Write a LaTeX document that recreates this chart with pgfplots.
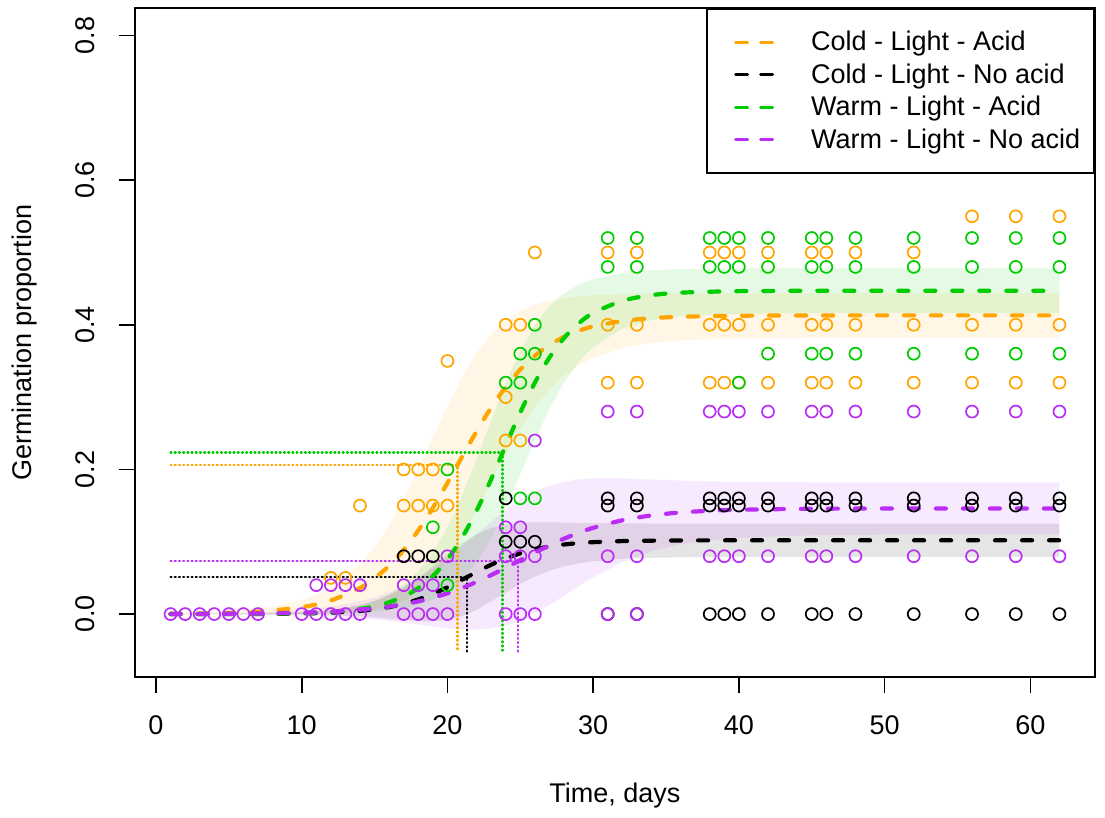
\documentclass[border=0pt]{standalone}
\usepackage{fontspec}
\setmainfont{Liberation Sans}
\usepackage{pgfplots}
\usepackage{pgfplotstable}
\pgfplotsset{compat=1.18}
\usepgfplotslibrary{fillbetween}
\definecolor{cOr}{RGB}{255,165,0}
\definecolor{cGr}{RGB}{0,205,0}
\definecolor{cPu}{RGB}{185,45,245}
\definecolor{cBk}{RGB}{0,0,0}
\newcommand\myfont{\fontsize{13.5}{16.2}\selectfont}

\pgfplotstableread{
t f lo hi
1 0.0004 0.0000 0.0008
4 0.0012 0.0000 0.0024
7 0.0034 0.0001 0.0067
10 0.0095 0.0003 0.0187
12 0.0188 0.0011 0.0365
14 0.0361 0.0034 0.0688
15 0.0495 0.0061 0.0929
16 0.0668 0.0108 0.1228
17 0.0888 0.0186 0.1590
18 0.1156 0.0311 0.2001
19 0.1468 0.0496 0.2440
20 0.1813 0.0751 0.2875
21 0.2173 0.1072 0.3274
22 0.2527 0.1444 0.3610
23 0.2854 0.1837 0.3871
24 0.3140 0.2219 0.4061
25 0.3380 0.2567 0.4193
26 0.3571 0.2863 0.4279
27 0.3720 0.3104 0.4336
28 0.3832 0.3293 0.4371
29 0.3916 0.3437 0.4395
30 0.3977 0.3544 0.4410
32 0.4052 0.3678 0.4426
34 0.4091 0.3749 0.4433
36 0.4111 0.3785 0.4437
40 0.4125 0.3811 0.4439
45 0.4129 0.3819 0.4439
50 0.4130 0.3820 0.4440
56 0.4130 0.3820 0.4440
62 0.4130 0.3820 0.4440
}\tabOr

\pgfplotstableread{
t f lo hi
1 0.0000 0.0000 0.0001
4 0.0001 0.0000 0.0002
7 0.0002 -0.0002 0.0006
10 0.0009 -0.0007 0.0025
12 0.0020 -0.0015 0.0055
14 0.0045 -0.0033 0.0123
15 0.0067 -0.0046 0.0180
16 0.0098 -0.0064 0.0260
17 0.0142 -0.0082 0.0366
18 0.0202 -0.0098 0.0502
19 0.0279 -0.0101 0.0659
20 0.0371 -0.0083 0.0825
21 0.0475 -0.0030 0.0980
22 0.0581 0.0058 0.1104
23 0.0682 0.0174 0.1190
24 0.0769 0.0299 0.1239
25 0.0840 0.0418 0.1262
26 0.0894 0.0519 0.1269
27 0.0934 0.0599 0.1269
28 0.0962 0.0659 0.1265
29 0.0981 0.0701 0.1261
30 0.0994 0.0730 0.1258
32 0.1009 0.0764 0.1254
34 0.1015 0.0778 0.1252
36 0.1018 0.0785 0.1251
40 0.1020 0.0790 0.1250
45 0.1020 0.0790 0.1250
50 0.1020 0.0790 0.1250
56 0.1020 0.0790 0.1250
62 0.1020 0.0790 0.1250
}\tabBk

\pgfplotstableread{
t f lo hi
1 0.0000 0.0000 0.0001
4 0.0001 0.0000 0.0002
7 0.0004 0.0001 0.0007
10 0.0014 0.0005 0.0023
12 0.0031 0.0009 0.0053
14 0.0072 0.0022 0.0122
15 0.0108 0.0034 0.0182
16 0.0163 0.0053 0.0273
17 0.0243 0.0081 0.0405
18 0.0360 0.0126 0.0594
19 0.0525 0.0196 0.0854
20 0.0753 0.0306 0.1200
21 0.1054 0.0473 0.1635
22 0.1428 0.0716 0.2140
23 0.1863 0.1048 0.2678
24 0.2329 0.1464 0.3194
25 0.2787 0.1932 0.3642
26 0.3200 0.2404 0.3996
27 0.3546 0.2837 0.4255
28 0.3816 0.3199 0.4433
29 0.4018 0.3483 0.4553
30 0.4162 0.3692 0.4632
32 0.4331 0.3946 0.4716
34 0.4409 0.4065 0.4753
36 0.4444 0.4119 0.4769
40 0.4465 0.4152 0.4778
45 0.4470 0.4160 0.4780
50 0.4470 0.4160 0.4780
56 0.4470 0.4160 0.4780
62 0.4470 0.4160 0.4780
}\tabGr

\pgfplotstableread{
t f lo hi
1 0.0001 -0.0002 0.0004
4 0.0003 -0.0004 0.0010
7 0.0008 -0.0009 0.0025
10 0.0019 -0.0020 0.0058
12 0.0034 -0.0034 0.0102
14 0.0060 -0.0058 0.0178
15 0.0079 -0.0074 0.0232
16 0.0104 -0.0094 0.0302
17 0.0136 -0.0117 0.0389
18 0.0176 -0.0143 0.0495
19 0.0226 -0.0170 0.0622
20 0.0287 -0.0195 0.0769
21 0.0360 -0.0212 0.0932
22 0.0444 -0.0216 0.1104
23 0.0539 -0.0199 0.1277
24 0.0640 -0.0158 0.1438
25 0.0746 -0.0088 0.1580
26 0.0851 0.0009 0.1693
27 0.0950 0.0125 0.1775
28 0.1042 0.0254 0.1830
29 0.1123 0.0384 0.1862
30 0.1192 0.0509 0.1875
32 0.1297 0.0719 0.1875
34 0.1364 0.0868 0.1860
36 0.1405 0.0964 0.1846
38 0.1428 0.1021 0.1835
40 0.1442 0.1055 0.1829
45 0.1456 0.1090 0.1822
50 0.1459 0.1098 0.1820
56 0.1460 0.1100 0.1820
62 0.1460 0.1100 0.1820
}\tabPu

\pgfplotstableread{
t y
12 0.05
13 0.05
14 0.15
17 0.20
18 0.20
19 0.20
17 0.15
18 0.15
19 0.15
20 0.15
20 0.35
24 0.40
25 0.40
24 0.30
24 0.24
25 0.24
26 0.50
31 0.50
31 0.40
31 0.32
33 0.50
33 0.40
33 0.32
38 0.50
38 0.40
38 0.32
39 0.50
39 0.40
39 0.32
40 0.50
40 0.40
40 0.32
42 0.50
42 0.40
42 0.32
45 0.50
45 0.40
45 0.32
46 0.50
46 0.40
46 0.32
48 0.50
48 0.40
48 0.32
52 0.50
52 0.40
52 0.32
56 0.55
56 0.40
56 0.32
59 0.55
59 0.40
59 0.32
62 0.55
62 0.40
62 0.32
}\ptsOr

\pgfplotstableread{
t y
17 0.08
18 0.08
19 0.08
24 0.16
24 0.10
25 0.10
26 0.10
31 0.16
31 0.15
31 0
33 0.16
33 0.15
33 0
38 0.16
38 0.15
38 0
39 0.16
39 0.15
39 0
40 0.16
40 0.15
40 0
42 0.16
42 0.15
42 0
45 0.16
45 0.15
45 0
46 0.16
46 0.15
46 0
48 0.16
48 0.15
48 0
52 0.16
52 0.15
52 0
56 0.16
56 0.15
56 0
59 0.16
59 0.15
59 0
62 0.16
62 0.15
62 0
}\ptsBk

\pgfplotstableread{
t y
19 0.12
20 0.20
20 0.04
24 0.32
25 0.32
25 0.36
26 0.36
26 0.40
25 0.16
26 0.16
31 0.52
31 0.48
33 0.52
33 0.48
38 0.52
38 0.48
39 0.52
39 0.48
40 0.52
40 0.48
40 0.32
42 0.52
42 0.48
42 0.36
45 0.52
45 0.48
45 0.36
46 0.52
46 0.48
46 0.36
48 0.52
48 0.48
48 0.36
52 0.52
52 0.48
52 0.36
56 0.52
56 0.48
56 0.36
59 0.52
59 0.48
59 0.36
62 0.52
62 0.48
62 0.36
}\ptsGr

\pgfplotstableread{
t y
1 0
2 0
3 0
4 0
5 0
6 0
7 0
10 0
11 0
12 0
13 0
14 0
11 0.04
12 0.04
13 0.04
14 0.04
17 0
18 0
19 0
20 0
17 0.04
18 0.04
19 0.04
20 0.08
24 0
25 0
26 0
24 0.08
25 0.08
26 0.08
24 0.12
25 0.12
26 0.24
31 0
33 0
31 0.28
31 0.08
33 0.28
33 0.08
38 0.28
38 0.08
39 0.28
39 0.08
40 0.28
40 0.08
42 0.28
42 0.08
45 0.28
45 0.08
46 0.28
46 0.08
48 0.28
48 0.08
52 0.28
52 0.08
56 0.28
56 0.08
59 0.28
59 0.08
62 0.28
62 0.08
}\ptsPu

\begin{document}
\begin{tikzpicture}
\begin{axis}[
  scale only axis, width=480pt, height=334.5pt,
  xmin=-1.44, xmax=64.44, ymin=-0.087, ymax=0.838,
  xtick={0,10,20,30,40,50,60},
  ytick={0,0.2,0.4,0.6,0.8},
  tick align=outside, xtick pos=bottom, ytick pos=left,
  major tick length=8pt,
  axis line style={line width=0.8pt},
  tick style={black, line width=0.8pt},
  every tick label/.append style={font=\myfont},
  /pgf/number format/assume math mode=true,
  xticklabel style={anchor=base, yshift=-20.5pt},
  yticklabel style={/pgf/number format/fixed, /pgf/number format/fixed zerofill, /pgf/number format/precision=1, xshift=-12.1pt, rotate=90, anchor=base},
  xlabel={Time, days}, ylabel={Germination proportion},
  label style={font=\myfont},
  xlabel style={at={(axis description cs:0.5,-0.1878)}, anchor=base, inner sep=1pt},
  ylabel style={at={(axis description cs:-0.1083,0.5)}, anchor=base, inner sep=1pt},
  legend style={at={(1,1)}, anchor=north east, draw=black, line width=0.8pt, font=\myfont,
    inner xsep=7pt, inner ysep=11.4pt, row sep=5.75pt, column sep=18.25pt,
    nodes={inner sep=0pt, text height=9.5pt, text depth=1pt}},
  legend cell align=left,
  legend image code/.code={\path (0pt,-1pt) (24.75pt,1pt);
    \draw[#1, line width=1.5pt, dash pattern=on 6pt off 6.5pt, line cap=round] (6.25pt,0pt) -- (24.75pt,0pt);},
]
% confidence bands
\addplot[name path=oh, draw=none, forget plot] table[x=t,y=hi]{\tabOr};
\addplot[name path=ol, draw=none, forget plot] table[x=t,y=lo]{\tabOr};
\addplot[cOr, fill opacity=0.1, draw=none, forget plot] fill between[of=oh and ol];
\addplot[name path=bh, draw=none, forget plot] table[x=t,y=hi]{\tabBk};
\addplot[name path=bl, draw=none, forget plot] table[x=t,y=lo]{\tabBk};
\addplot[cBk, fill opacity=0.1, draw=none, forget plot] fill between[of=bh and bl];
\addplot[name path=gh, draw=none, forget plot] table[x=t,y=hi]{\tabGr};
\addplot[name path=gl, draw=none, forget plot] table[x=t,y=lo]{\tabGr};
\addplot[cGr, fill opacity=0.1, draw=none, forget plot] fill between[of=gh and gl];
\addplot[name path=ph, draw=none, forget plot] table[x=t,y=hi]{\tabPu};
\addplot[name path=pl, draw=none, forget plot] table[x=t,y=lo]{\tabPu};
\addplot[cPu, fill opacity=0.1, draw=none, forget plot] fill between[of=ph and pl];
% observations
\addplot[only marks, mark=o, mark size=3pt, cOr, mark options={line width=0.85pt}, forget plot] table[x=t,y=y]{\ptsOr};
\addplot[only marks, mark=o, mark size=3pt, cBk, mark options={line width=0.85pt}, forget plot] table[x=t,y=y]{\ptsBk};
\addplot[only marks, mark=o, mark size=3pt, cGr, mark options={line width=0.85pt}, forget plot] table[x=t,y=y]{\ptsGr};
\addplot[only marks, mark=o, mark size=3pt, cPu, mark options={line width=0.85pt}, forget plot] table[x=t,y=y]{\ptsPu};
% dotted t50 guides
\addplot[cOr, line width=1.1pt, line cap=round, dash pattern=on 0.5pt off 1.6pt, forget plot] coordinates {(1,0.2065) (20.69,0.2065) (20.69,-0.052)};
\addplot[cBk, line width=1.1pt, line cap=round, dash pattern=on 0.5pt off 1.6pt, forget plot] coordinates {(1,0.051) (21.33,0.051) (21.33,-0.052)};
\addplot[cGr, line width=1.1pt, line cap=round, dash pattern=on 0.5pt off 1.6pt, forget plot] coordinates {(1,0.2235) (23.78,0.2235) (23.78,-0.052)};
\addplot[cPu, line width=1.1pt, line cap=round, dash pattern=on 0.5pt off 1.6pt, forget plot] coordinates {(1,0.073) (24.85,0.073) (24.85,-0.052)};
% fitted curves
\addplot[cOr, line width=2.1pt, dash pattern=on 5pt off 8.5pt, line cap=round, smooth] table[x=t,y=f]{\tabOr};
\addlegendentry{Cold - Light - Acid}
\addplot[cBk, line width=2.1pt, dash pattern=on 5pt off 8.5pt, line cap=round, smooth] table[x=t,y=f]{\tabBk};
\addlegendentry{Cold - Light - No acid}
\addplot[cGr, line width=2.1pt, dash pattern=on 5pt off 8.5pt, line cap=round, smooth] table[x=t,y=f]{\tabGr};
\addlegendentry{Warm - Light - Acid}
\addplot[cPu, line width=2.1pt, dash pattern=on 5pt off 8.5pt, line cap=round, smooth] table[x=t,y=f]{\tabPu};
\addlegendentry{Warm - Light - No acid}
\end{axis}
\path ([xshift=-67.5pt,yshift=-70pt]current axis.south west) rectangle ([xshift=5pt,yshift=4pt]current axis.north east);
\end{tikzpicture}
\end{document}
